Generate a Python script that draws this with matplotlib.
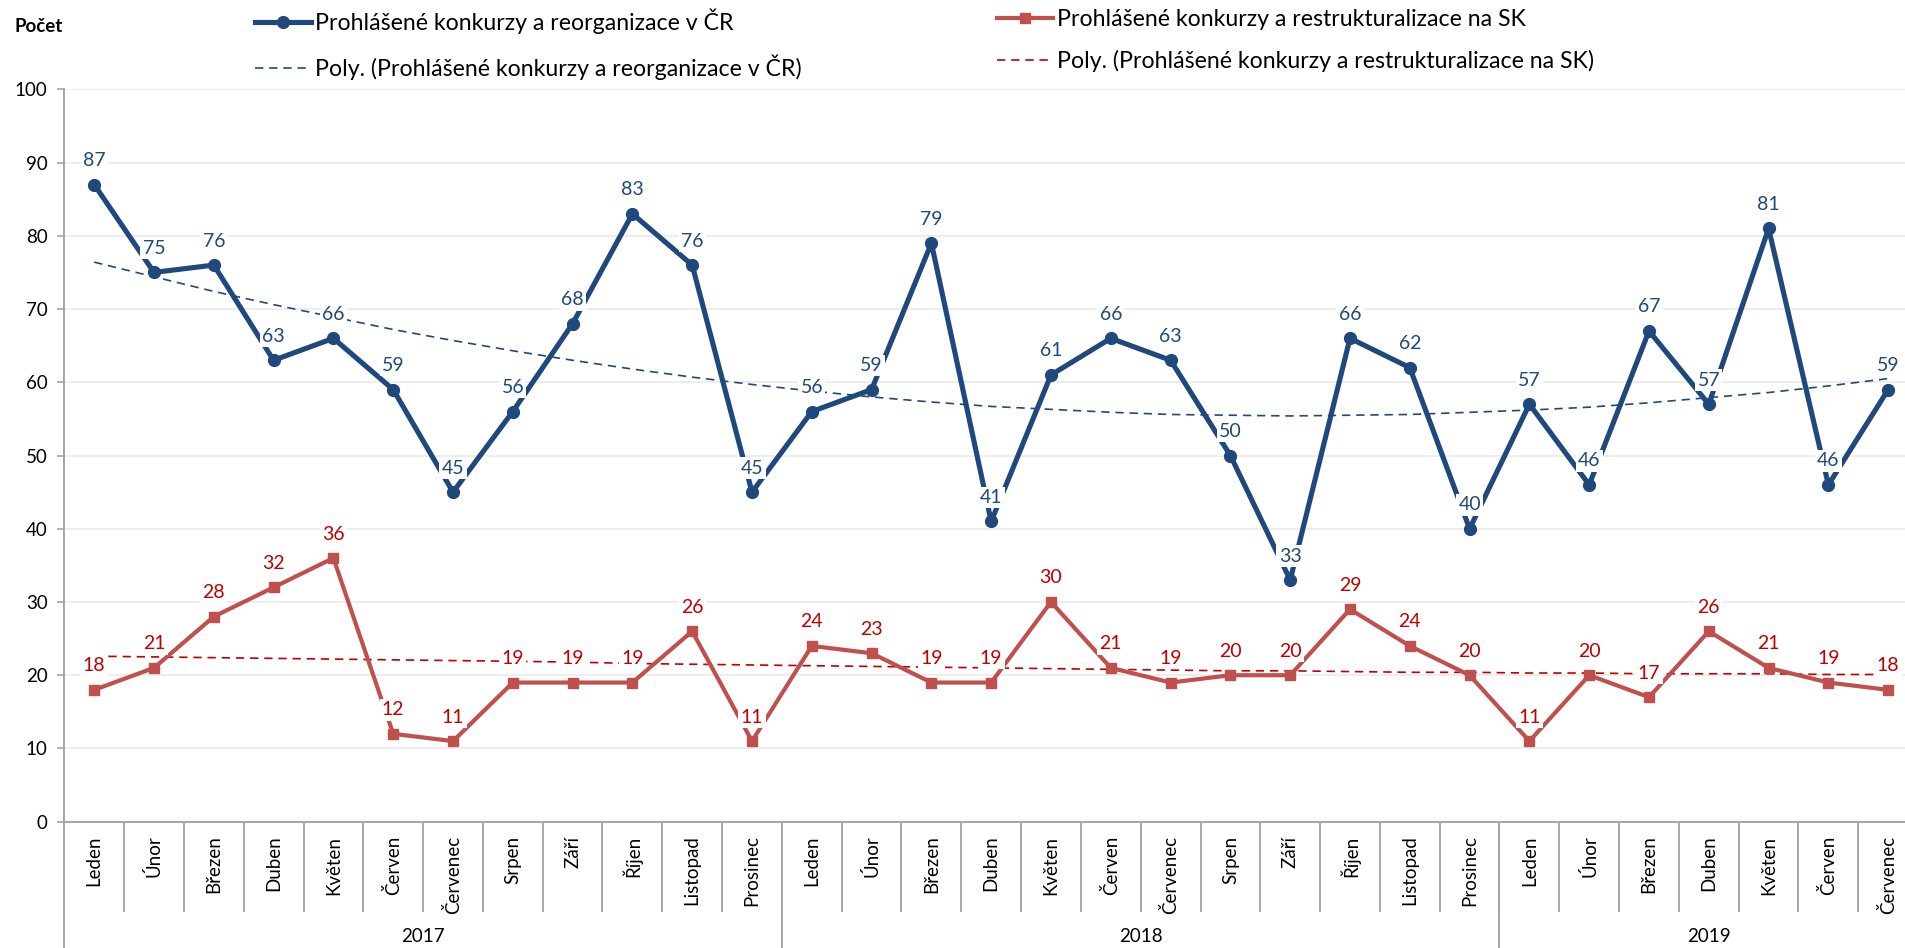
import numpy as np
import matplotlib
matplotlib.use("Agg")
import matplotlib.pyplot as plt
from matplotlib.lines import Line2D

plt.rcParams['font.family'] = ['Lato', 'DejaVu Sans']

W, H = 1906, 948
font_size = 13.5

months = ['Leden', 'Únor', 'Březen', 'Duben', 'Květen', 'Červen', 'Červenec',
          'Srpen', 'Září', 'Říjen', 'Listopad', 'Prosinec']
years = ['2017', '2018', '2019']
year_counts = [12, 12, 7]
month_labels = months * 2 + months[:7]

cz_values = [87, 75, 76, 63, 66, 59, 45, 56, 68, 83, 76, 45,
             56, 59, 79, 41, 61, 66, 63, 50, 33, 66, 62, 40,
             57, 46, 67, 57, 81, 46, 59]
sk_values = [18, 21, 28, 32, 36, 12, 11, 19, 19, 19, 26, 11,
             24, 23, 19, 19, 30, 21, 19, 20, 20, 29, 24, 20,
             11, 20, 17, 26, 21, 19, 18]
# trend lines
cz_trend = [76.4, 74.4, 72.4, 70.6, 68.9, 67.2, 65.7, 64.3, 63.0, 61.8, 60.7, 59.7,
            58.8, 58.0, 57.3, 56.7, 56.3, 55.9, 55.6, 55.5, 55.4, 55.5, 55.6, 55.9,
            56.2, 56.6, 57.2, 57.9, 58.6, 59.5, 60.5]
sk_trend = [22.6, 22.5, 22.4, 22.3, 22.2, 22.1, 22.0, 21.9, 21.8, 21.6, 21.5, 21.4,
            21.3, 21.2, 21.1, 21.0, 20.9, 20.8, 20.7, 20.6, 20.6, 20.5, 20.4, 20.4,
            20.3, 20.3, 20.2, 20.2, 20.2, 20.1, 20.1]

cz_label = 'Prohlášené konkurzy a reorganizace v ČR'
sk_label = 'Prohlášené konkurzy a restrukturalizace na SK'

blue = '#1F497D'
red_line = '#C0504D'
red_text = '#C00000'
grey = '#A6A6A6'

fig = plt.figure(figsize=(W / 100, H / 100), dpi=100)
x0, y0 = 64.3, 821.7
cw = 59.8
ytop = 89.3
ax = fig.add_axes([x0 / W, 1 - y0 / H, 31 * cw / W, (y0 - ytop) / H])

n = len(cz_values)
x = np.arange(n) + 0.5

ax.plot(x, cz_values, color=blue, lw=3.7, marker='o', ms=8.5, zorder=3,
        solid_joinstyle='round')
ax.plot(x, sk_values, color=red_line, lw=3.0, marker='s', ms=6.5, zorder=3,
        solid_joinstyle='round')
ax.plot(x, cz_trend, color=blue, lw=1.2, ls=(0, (5, 3.5)), zorder=2)
ax.plot(x, sk_trend, color=red_text, lw=1.2, ls=(0, (5, 3.5)), zorder=2)

for xi, v in zip(x, cz_values):
    ax.annotate(str(v), (xi, v), xytext=(0, 24), textcoords='offset pixels',
                ha='center', va='center', color=blue, fontsize=14, zorder=5,
                bbox=dict(boxstyle='square,pad=0.12', fc='white', ec='none'))
for xi, v in zip(x, sk_values):
    ax.annotate(str(v), (xi, v), xytext=(0, 24), textcoords='offset pixels',
                ha='center', va='center', color=red_text, fontsize=14, zorder=5,
                bbox=dict(boxstyle='square,pad=0.12', fc='white', ec='none'))

ax.set_xlim(0, n)
ax.set_ylim(0, 100)
ax.set_yticks(range(0, 101, 10))
ax.grid(axis='y', color='#ECECEC', lw=1.3, zorder=0)
ax.set_axisbelow(True)
for s in ['top', 'right']:
    ax.spines[s].set_visible(False)
for s in ['left', 'bottom']:
    ax.spines[s].set_color(grey)
    ax.spines[s].set_linewidth(1.4)
ax.tick_params(axis='y', length=5, width=1.2, color=grey, pad=7,
               labelsize=font_size, labelcolor='black')

ax.set_xticks(x)
ax.set_xticklabels(month_labels, rotation=90, va='top', ha='center')
ax.tick_params(axis='x', length=0, pad=10, labelsize=font_size, labelcolor='black')

# category separators below the axis
span = y0 - ytop
tr = ax.get_xaxis_transform()
ax.vlines(np.arange(1, n), -(912 - y0) / span, 0, transform=tr, color=grey,
          lw=1.4, clip_on=False)
edges = np.concatenate([[0], np.cumsum(year_counts)])
ax.vlines(edges[:-1], -(H - y0 + 2) / span, 0, transform=tr, color=grey,
          lw=1.4, clip_on=False)
for yr, a, b in zip(years, edges[:-1], edges[1:]):
    ax.text((a + b) / 2, -(936 - y0) / span, yr, transform=tr, ha='center',
            va='center', fontsize=font_size)

fig.text(15 / W, 1 - 27 / H, 'Počet', fontsize=font_size, fontweight='bold',
         va='center', ha='left')

leg_kw = dict(frameon=False, loc='upper left', borderpad=0, borderaxespad=0,
              handlelength=2.4, handletextpad=0.2, labelspacing=0.85,
              fontsize=16.7, numpoints=1)
h1 = [Line2D([0], [0], color=blue, lw=3.7, marker='o', ms=8.5),
      Line2D([0], [0], color=blue, lw=1.2, ls=(0, (5, 3.5)))]
fig.legend(handles=h1, labels=[cz_label, 'Poly. (' + cz_label + ')'],
           bbox_to_anchor=(255 / W, 1 - 9 / H), **leg_kw)
h2 = [Line2D([0], [0], color=red_line, lw=3.0, marker='s', ms=6.5),
      Line2D([0], [0], color=red_text, lw=1.2, ls=(0, (5, 3.5)))]
fig.legend(handles=h2, labels=[sk_label, 'Poly. (' + sk_label + ')'],
           bbox_to_anchor=(997 / W, 1 - 9 / H), **leg_kw)

plt.savefig('out.png', dpi=100)
plt.close()
